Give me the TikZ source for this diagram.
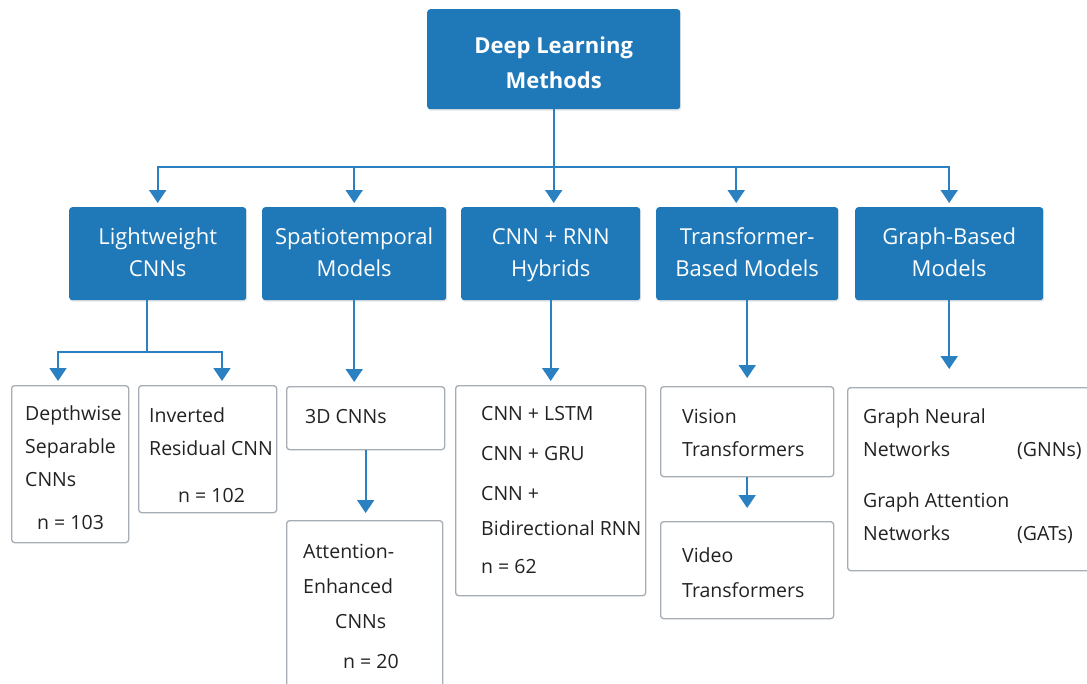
\documentclass[tikz,border=0pt]{standalone}
\usepackage{fontspec}
\setmainfont{Open Sans}
\usetikzlibrary{arrows.meta,shadows}

\definecolor{dlblue}{HTML}{1F78B8}
\definecolor{linkblue}{HTML}{2B80C1}
\definecolor{boxgrey}{HTML}{A7ADB4}
\definecolor{txtdark}{HTML}{222222}

\begin{document}
\begin{tikzpicture}[x=1pt,y=-1pt,
  catbox/.style={fill=dlblue, rounded corners=3pt, anchor=north west, inner sep=0pt,
    text=white, align=center, font=\fontsize{22}{32}\selectfont,
    drop shadow={opacity=0.2, shadow xshift=1pt, shadow yshift=-1.5pt}},
  leafbox/.style={draw=boxgrey, line width=1.3pt, rounded corners=3pt, anchor=north west, inner sep=0pt},
  leaftxt/.style={anchor=north west, inner sep=0pt, align=left, text=txtdark,
    font=\fontsize{19.5}{33}\selectfont},
  link/.style={draw=linkblue, line width=1.8pt},
  arr/.style={link, -{Triangle[width=17pt,length=13pt]}, shorten >=4pt}
]

% Page frame
\fill[white] (0,0) rectangle (1087,683);
\useasboundingbox (0,0) rectangle (1087,683);

% Root and categories
\node[catbox, minimum width=253, minimum height=100,
  font=\bfseries\fontsize{22}{35}\selectfont] (root) at (427,9) {\strut Deep Learning\\Methods};
\node[catbox, minimum width=177, minimum height=93] (light) at (69,207) {\strut Lightweight\\CNNs\strut};
\node[catbox, minimum width=184, minimum height=93] (spatio) at (262,207) {\strut Spatiotemporal\\Models\strut};
\node[catbox, minimum width=179, minimum height=93] (hybrid) at (461,207) {\strut CNN + RNN\\Hybrids\strut};
\node[catbox, minimum width=182, minimum height=93] (trans) at (656,207) {\strut Transformer-\\Based Models\strut};
\node[catbox, minimum width=188, minimum height=93] (graph) at (855,207) {\strut Graph-Based\\Models\strut};

% Leaf boxes
\node[leafbox, minimum width=117, minimum height=157] (dws) at (11,385) {};
\node[leafbox, minimum width=138, minimum height=127] (inv) at (138,385) {};
\node[leafbox, minimum width=158, minimum height=63] (c3d) at (286,386) {};
\node[leafbox, minimum width=156, minimum height=180] (att) at (286,520) {};
\node[leafbox, minimum width=190, minimum height=210] (cr) at (455,385) {};
\node[leafbox, minimum width=173, minimum height=90] (vit) at (660,386) {};
\node[leafbox, minimum width=173, minimum height=97] (vid) at (660,521) {};
\node[leafbox, minimum width=260, minimum height=183] (gnn) at (847,387) {};

% Leaf texts
\node[leaftxt] (dwstxt) at (25,397) {\strut Depthwise\\Separable\\CNNs\\[10pt]\hspace*{12pt}n = 103};
\begin{scope}
  \clip (inv.north west) rectangle ([xshift=-2pt]inv.south east);
  \node[leaftxt] (invtxt) at (149,399) {\strut Inverted\\Residual CNN\\[14pt]\hspace*{29pt}n = 102};
\end{scope}
\node[leaftxt] (c3dtxt) at (305,400) {\strut 3D CNNs};
\node[leaftxt, font=\fontsize{19.5}{35}\selectfont] (atttxt) at (303,533.5)
  {\strut Attention-\\Enhanced\\\hspace*{32pt}CNNs\\[5pt]\hspace*{40pt}n = 20};
\node[leaftxt, font=\fontsize{19.5}{35}\selectfont] (crtxt) at (481,395.5)
  {\strut CNN + LSTM\\[5pt]CNN + GRU\\[5pt]CNN +\\Bidirectional RNN\\[3pt]n = 62};
\node[leaftxt] (vittxt) at (682,400) {\strut Vision\\Transformers};
\node[leaftxt] (vidtxt) at (682,539) {\strut Video\\[2pt]Transformers};
\node[leaftxt] (gnntxt) at (863,400)
  {\strut Graph Neural\\\makebox[154pt][l]{Networks}(GNNs)\\[18pt]Graph Attention\\\makebox[154pt][l]{Networks}(GATs)};

% Root to categories
\coordinate (bus) at (0,167);
\foreach \n in {light, spatio, graph}
  \draw[arr] (root.south) -- (root.south |- bus) -| (\n.north);
\draw[arr] (root.south) -- (root.south |- bus) -| ([xshift=-11pt]trans.north);
\draw[arr] (root.south) -- (root.south |- hybrid.north);

% Lightweight fork
\coordinate (fork) at (147,352);
\draw[arr] (light.south -| fork) -- (fork) -| (58,385);
\draw[arr] (fork) -| (222,385);

% Other branches
\draw[arr] (spatio.south) -- (spatio.south |- c3d.north);
\draw[arr, shorten >=7pt] (c3d.south) -- (c3d.south |- att.north);
\draw[arr] (hybrid.south) -- (hybrid.south |- cr.north);
\draw[arr, shorten >=8pt] (trans.south) -- (trans.south |- vit.north);
\draw[arr, shorten >=13pt] (vit.south) -- (vid.north);
\draw[arr, shorten >=18pt] (graph.south) -- (graph.south |- gnn.north);

\end{tikzpicture}
\end{document}
